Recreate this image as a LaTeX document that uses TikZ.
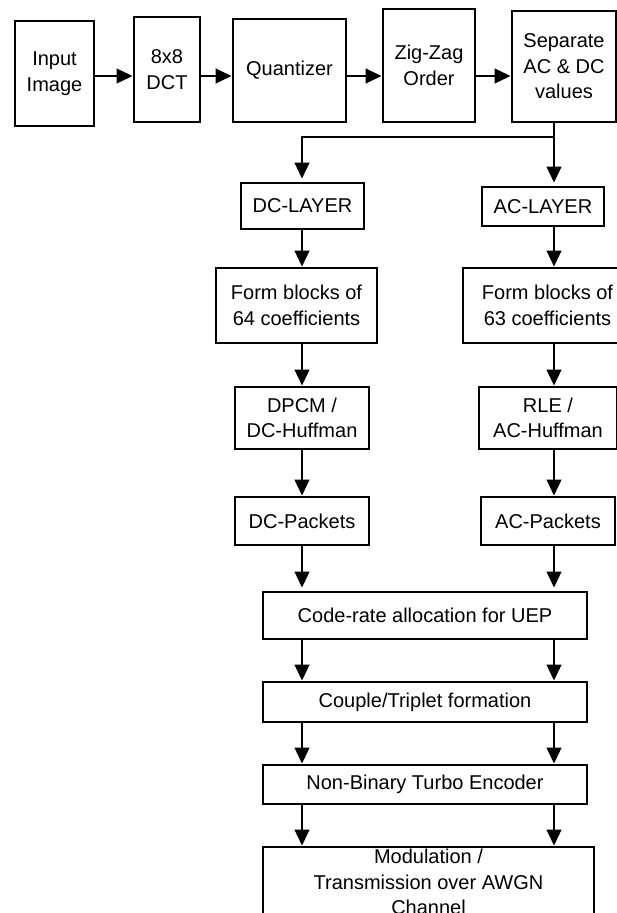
\documentclass[tikz,border=0pt]{standalone}
\usepackage{fontspec}
\setmainfont{Liberation Sans}
\usetikzlibrary{arrows.meta}
\tikzset{
  blk/.style={draw, line width=1.1pt, align=center, inner sep=0pt, outer sep=0pt,
              font=\fontsize{20}{25.5}\selectfont},
  txt/.style={align=center, inner sep=0pt, font=\fontsize{20}{25.5}\selectfont},
  arr/.style={line width=1.2pt, -{Triangle[length=16pt,width=15pt]}, shorten >=1.5pt},
  gap/.style={shorten >=4.5pt},
  wire/.style={line width=1.2pt},
}
\begin{document}
\begin{tikzpicture}[x=1pt,y=-1pt]
\useasboundingbox (0,0) rectangle (617,913);
% top row
\node[blk, minimum width=79pt,  minimum height=105pt] (in)  at (54.5,73.5) {Input\\Image};
\node[blk, minimum width=66pt,  minimum height=105pt] (dct) at (167,69.5)  {8x8\\DCT};
\node[blk, minimum width=113pt, minimum height=103pt] (q)   at (289.5,70.5) {Quantizer};
\node[blk, minimum width=92pt,  minimum height=113pt] (zz)  at (429,65.5)  {Zig-Zag\\Order};
\node[blk, minimum width=104pt, minimum height=111pt] (sep) at (564,66.5)  {Separate\\AC \& DC\\values};
% layers
\node[blk, minimum width=123pt, minimum height=46pt] (dcl) at (302.5,206) {DC-LAYER};
\node[blk, minimum width=122pt, minimum height=39pt] (acl) at (543,206.5) {AC-LAYER};
\node[blk, minimum width=161pt, minimum height=75pt] (f64) at (296.5,305.5) {Form blocks of\\64 coefficients};
\node[blk, minimum width=169pt, minimum height=75pt] (f63) at (547.5,305.5) {Form blocks of\\63 coefficients};
\node[blk, minimum width=134pt, minimum height=62pt] (dpcm) at (302,418) {DPCM /\\DC-Huffman};
\node[blk, minimum width=138pt, minimum height=62pt] (rle)  at (548,418) {RLE /\\AC-Huffman};
\node[blk, minimum width=134pt, minimum height=48pt] (dcp) at (302,521) {DC-Packets};
\node[blk, minimum width=134pt, minimum height=48pt] (acp) at (548,521) {AC-Packets};
\node[blk, minimum width=324pt, minimum height=47pt] (cr) at (425,615.5) {Code-rate allocation for UEP};
\node[blk, minimum width=324pt, minimum height=40pt] (cp) at (425,702) {Couple/Triplet formation};
\node[blk, minimum width=324pt, minimum height=39pt] (nb) at (425,784.5) {Non-Binary Turbo Encoder};
\node[blk, minimum width=331pt, minimum height=113pt] (mod) at (428.5,903.5) {};
\node[txt] (modtxt) at (428.5,882) {Modulation /\\Transmission over AWGN\\Channel};
% helper coordinates
\coordinate (ay) at (0,76);
\coordinate (dcx) at (302,0);
\coordinate (acx) at (554,0);
\coordinate (split) at (554,137);
\coordinate (bend) at (302,137);
% top row arrows
\draw[arr] (in.east |- ay) -- (dct.west |- ay);
\draw[arr] (dct.east |- ay) -- (q.west |- ay);
\draw[arr] (q.east |- ay) -- (zz.west |- ay);
\draw[arr] (zz.east |- ay) -- (sep.west |- ay);
% split
\draw[arr, gap] (sep.south -| split) -- (split) -- (acl.north -| split);
\draw[arr, gap] (split) -- (bend) -- (dcl.north -| bend);
% DC column
\draw[arr] (dcl.south -| dcx) -- (f64.north -| dcx);
\draw[arr] (f64.south -| dcx) -- (dpcm.north -| dcx);
\draw[arr] (dpcm.south -| dcx) -- (dcp.north -| dcx);
\draw[arr, gap] (dcp.south -| dcx) -- (cr.north -| dcx);
% AC column
\draw[arr] (acl.south -| acx) -- (f63.north -| acx);
\draw[arr] (f63.south -| acx) -- (rle.north -| acx);
\draw[arr] (rle.south -| acx) -- (acp.north -| acx);
\draw[arr, gap] (acp.south -| acx) -- (cr.north -| acx);
% shared blocks
\draw[arr] (cr.south -| dcx) -- (cp.north -| dcx);
\draw[arr] (cr.south -| acx) -- (cp.north -| acx);
\draw[arr] (cp.south -| dcx) -- (nb.north -| dcx);
\draw[arr] (cp.south -| acx) -- (nb.north -| acx);
\draw[arr] (nb.south -| dcx) -- (mod.north -| dcx);
\draw[arr] (nb.south -| acx) -- (mod.north -| acx);
\end{tikzpicture}
\end{document}
